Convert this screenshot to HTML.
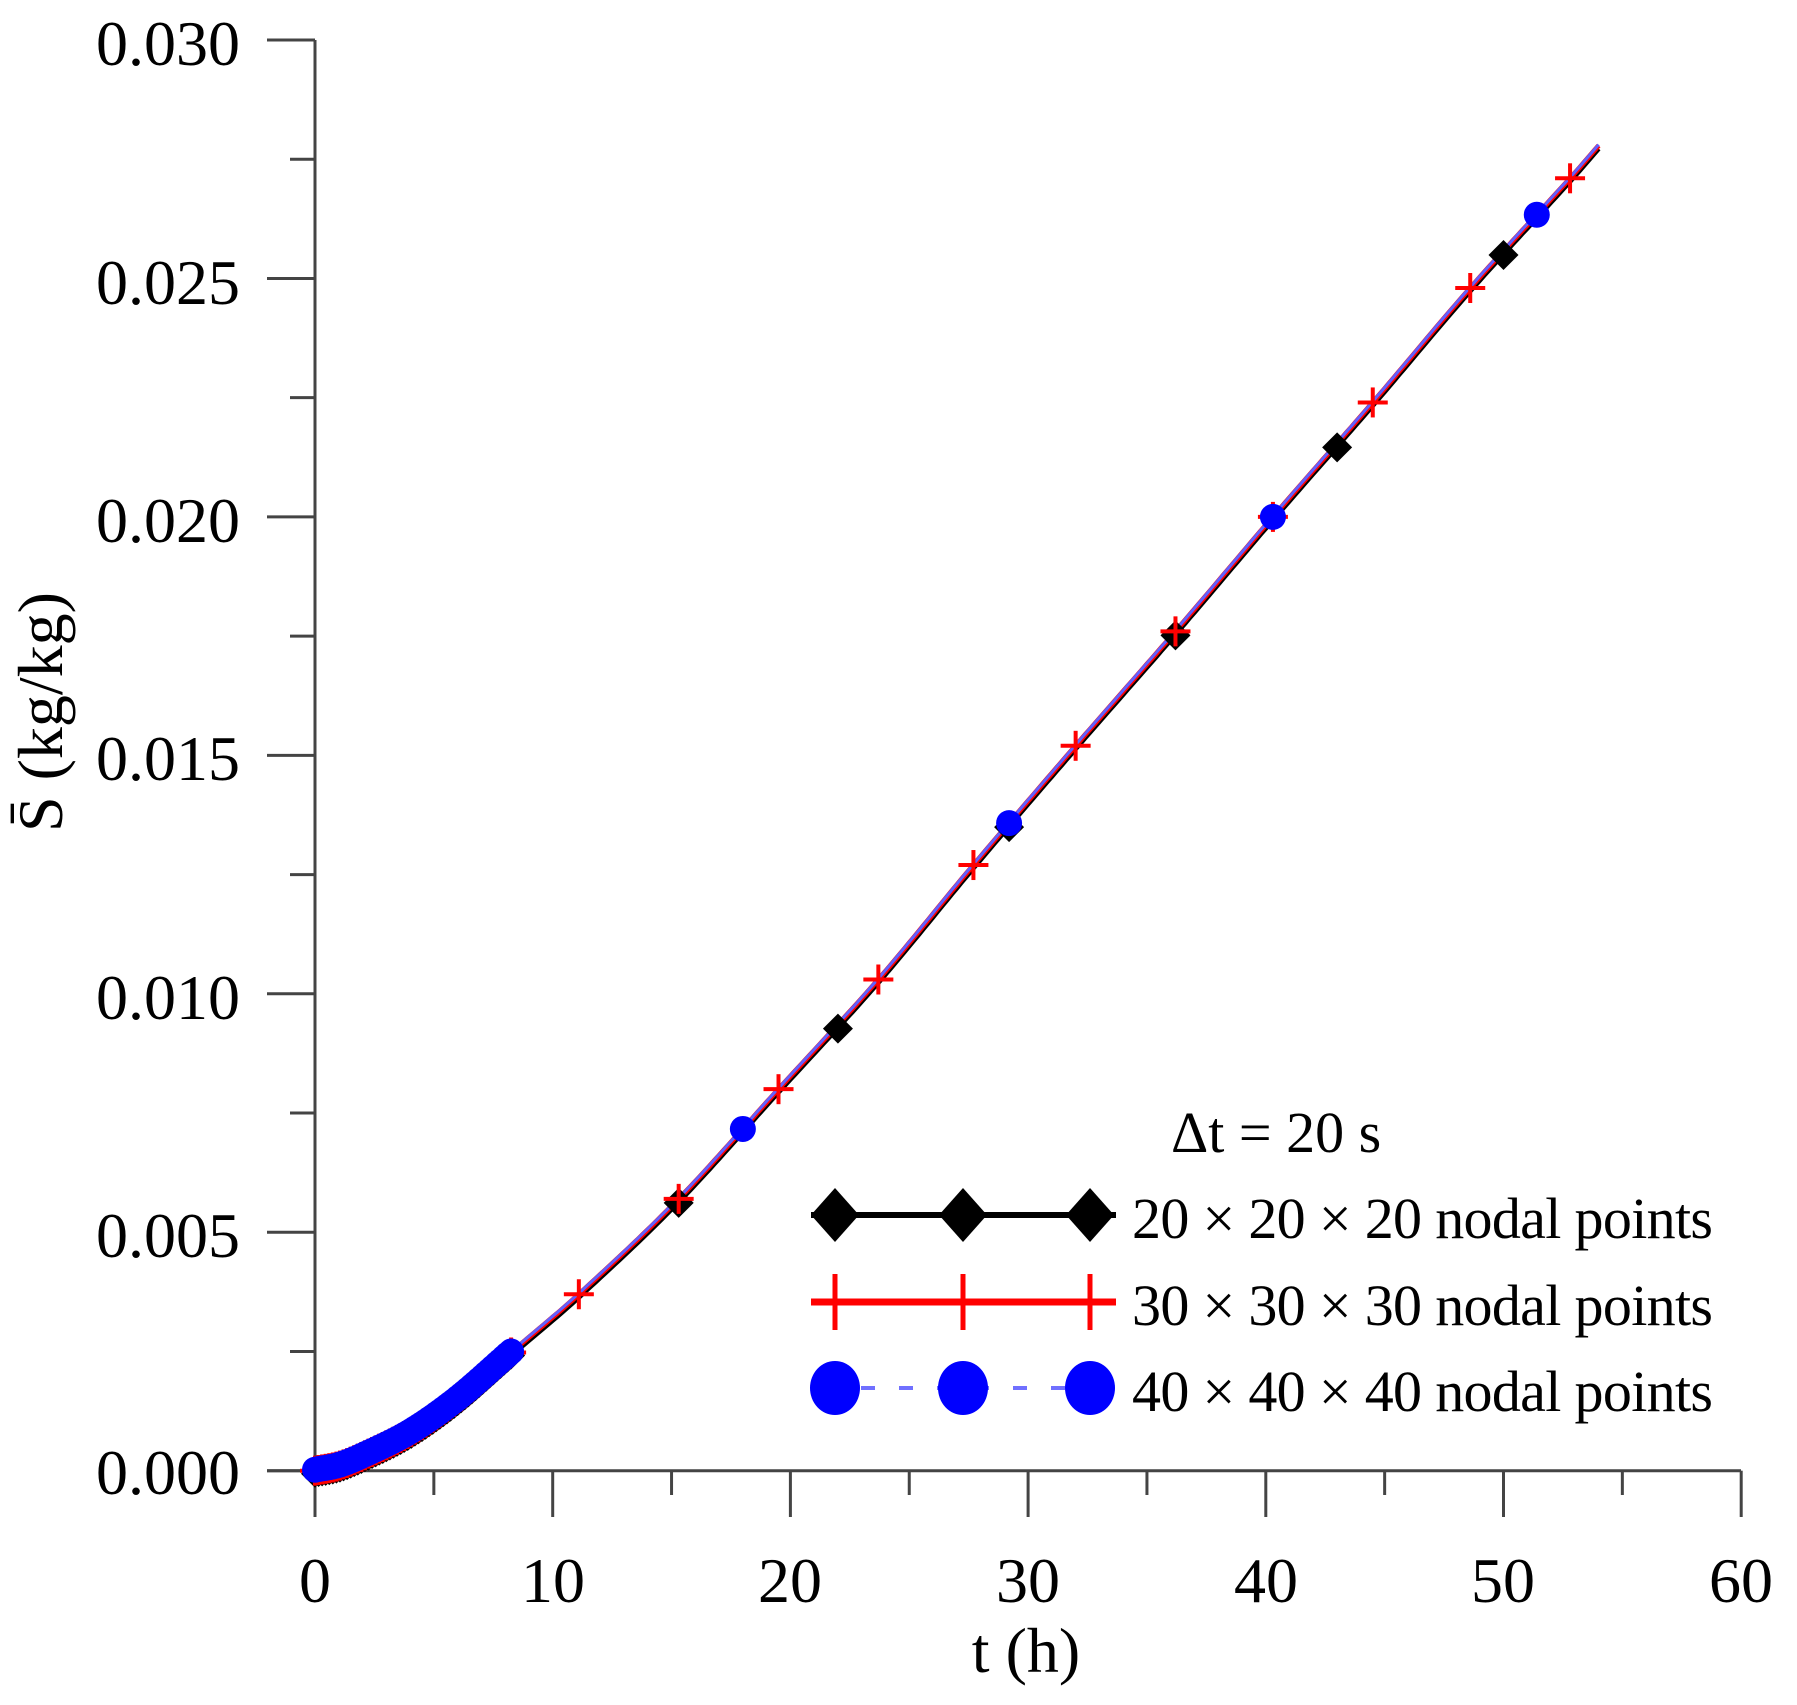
<!DOCTYPE html>
<html><head><meta charset="utf-8"><style>
html,body{margin:0;padding:0;background:#fff;}
svg{display:block;}
text{font-family:"Liberation Serif",serif;fill:#000;}
</style></head><body>
<svg id="s" width="1797" height="1705" viewBox="0 0 1797 1705" xmlns="http://www.w3.org/2000/svg">
<g id="axes" stroke="#444" stroke-width="3" fill="none"></g>
<g id="curves"></g>
<g id="marks"></g>
<g font-size="64">
<text x="240" y="65" text-anchor="end">0.030</text>
<text x="240" y="304" text-anchor="end">0.025</text>
<text x="240" y="542" text-anchor="end">0.020</text>
<text x="240" y="780" text-anchor="end">0.015</text>
<text x="240" y="1019" text-anchor="end">0.010</text>
<text x="240" y="1257" text-anchor="end">0.005</text>
<text x="240" y="1494" text-anchor="end">0.000</text>
<text x="315" y="1602" text-anchor="middle">0</text>
<text x="553" y="1602" text-anchor="middle">10</text>
<text x="790" y="1602" text-anchor="middle">20</text>
<text x="1028" y="1602" text-anchor="middle">30</text>
<text x="1266" y="1602" text-anchor="middle">40</text>
<text x="1503" y="1602" text-anchor="middle">50</text>
<text x="1741" y="1602" text-anchor="middle">60</text>
<text x="1026" y="1672" text-anchor="middle">t (h)</text>
<text transform="translate(62,712) rotate(-90)" text-anchor="middle">S̄ (kg/kg)</text>
<text x="1171" y="1152" font-size="58">Δt = 20 s</text>
<text x="1132" y="1238" font-size="58" textLength="581">20 × 20 × 20 nodal points</text>
<text x="1132" y="1325" font-size="58" textLength="581">30 × 30 × 30 nodal points</text>
<text x="1132" y="1411" font-size="58" textLength="581">40 × 40 × 40 nodal points</text>
</g>
<g id="legend"></g>
</svg>
<script>
var NS="http://www.w3.org/2000/svg";
function el(p,n,a){var e=document.createElementNS(NS,n);for(var k in a)e.setAttribute(k,a[k]);document.getElementById(p).appendChild(e);return e;}
var X0=315,XS=23.77,Y0=1470.7,YS=47690;
function X(t){return X0+t*XS;} function Y(s){return Y0-s*YS;}
// axes
el("axes","line",{x1:315,y1:40,x2:315,y2:1517});
el("axes","line",{x1:267,y1:Y0,x2:1741,y2:Y0});
for(var i=0;i<=12;i++){var x=X(i*5);el("axes","line",{x1:x,y1:Y0,x2:x,y2:i%2?1495:1517});}
for(var i=0;i<=12;i++){var y=Y(i*0.0025);el("axes","line",{x1:i%2?290:267,y1:y,x2:315,y2:y});}
// data
var P=[[0,0],[1,0.0001],[2,0.0003],[4,0.0008],[6,0.0015],[8.3,0.0025],[11.1,0.0037],[15.3,0.0057],[19.5,0.0080],[23.7,0.0103],[27.7,0.0127],[32,0.0152],[36.2,0.0176],[40.3,0.0200],[44.5,0.0224],[48.6,0.0248],[52.8,0.0271],[54.2,0.0279]];
function interp(t){for(var i=0;i<P.length-1;i++){if(t<=P[i+1][0]){var p0=P[Math.max(i-1,0)],p1=P[i],p2=P[i+1],p3=P[Math.min(i+2,P.length-1)];var u=(t-p1[0])/(p2[0]-p1[0]);
var m1=(p2[1]-p0[1])/(p2[0]-p0[0]||1)*(p2[0]-p1[0]),m2=(p3[1]-p1[1])/(p3[0]-p1[0]||1)*(p2[0]-p1[0]);
var h00=2*u*u*u-3*u*u+1,h10=u*u*u-2*u*u+u,h01=-2*u*u*u+3*u*u,h11=u*u*u-u*u;return h00*p1[1]+h10*m1+h01*p2[1]+h11*m2;}}return P[P.length-1][1];}
function path(dy,col,w,dash){var d="";for(var t=0;t<=54.2;t+=0.2){d+=(t?"L":"M")+X(t).toFixed(1)+","+(Y(interp(t))+dy).toFixed(1);}var a={d:d,stroke:col,"stroke-width":w,fill:"none"};if(dash)a["stroke-dasharray"]=dash;el("curves","path",a);}
path(3,"#000",5);path(0,"#f00",5);path(-1,"#6060ff",3);
function dia(g,x,y,w,h){el(g,"polygon",{points:(x-w)+","+y+" "+x+","+(y-h)+" "+(x+w)+","+y+" "+x+","+(y+h),fill:"#000"});}
function plus(g,x,y,a,b,sw){el(g,"line",{x1:x-a,y1:y,x2:x+a,y2:y,stroke:"#f00","stroke-width":sw});el(g,"line",{x1:x,y1:y-b,x2:x,y2:y+b,stroke:"#f00","stroke-width":sw});}
function circ(g,x,y,rx,ry){el(g,"ellipse",{cx:x,cy:y,rx:rx,ry:ry,fill:"#0000ff"});}
// dense early markers
for(var t=0;t<=8.3;t+=0.15){var x=X(t),y=Y(interp(t));dia("marks",x,y+3,14,14);}
for(var t=0;t<=8.3;t+=0.15){var x=X(t),y=Y(interp(t));plus("marks",x,y,15,15,4);}
for(var t=0;t<=8.3;t+=0.15){var x=X(t),y=Y(interp(t));circ("marks",x,y-1,13,13);}
[15.3,22,29.2,36.2,43,50].forEach(function(t){dia("marks",X(t),Y(interp(t))+4,15,15);});
[11.1,15.3,19.5,23.7,27.7,32,36.2,40.3,44.5,48.6,52.8].forEach(function(t){plus("marks",X(t),Y(interp(t)),15,15,4);});
[18,29.2,40.3,51.4].forEach(function(t){circ("marks",X(t),Y(interp(t)),13,13);});
// legend
el("legend","line",{x1:811,y1:1215,x2:1116,y2:1215,stroke:"#000","stroke-width":6});
[835,963,1090].forEach(function(x){dia("legend",x,1215,24,27);});
el("legend","line",{x1:811,y1:1302,x2:1116,y2:1302,stroke:"#f00","stroke-width":7});
[835,963,1090].forEach(function(x){plus("legend",x,1302,22,28,5);});
el("legend","line",{x1:811,y1:1388,x2:1116,y2:1388,stroke:"#7070ff","stroke-width":4,"stroke-dasharray":"14,24","stroke-dashoffset":"-50"});
[835,963,1090].forEach(function(x){circ("legend",x,1388,25,27);});
</script>
</body></html>
